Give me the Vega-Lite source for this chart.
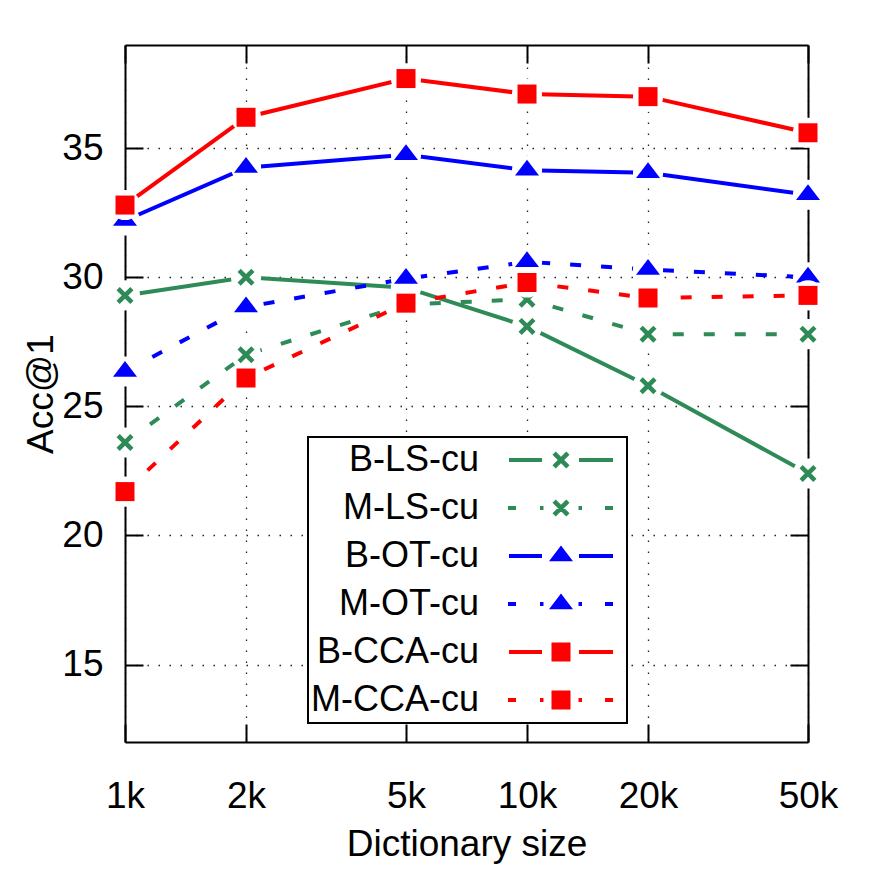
{
 "$schema": "https://vega.github.io/schema/vega-lite/v6.json",
 "width": 683,
 "height": 697,
 "autosize": {"type": "none"},
 "padding": {"left": 125, "top": 45, "right": 64, "bottom": 130},
 "background": "white",
 "config": {
  "view": {"stroke": null},
  "font": "Liberation Sans",
  "axis": {
   "labelFont": "Liberation Sans", "labelFontSize": 37, "labelColor": "black",
   "titleFont": "Liberation Sans", "titleFontSize": 37, "titleFontWeight": "normal", "titleColor": "black",
   "tickColor": "black", "tickWidth": 2, "tickSize": -18,
   "domainColor": "black", "domainWidth": 2,
   "gridColor": "#222", "gridDash": [1.5, 9.5], "gridWidth": 1.3, "gridOpacity": 1,
   "labelFlush": false, "labelOverlap": false, "labelBound": false
  },
  "legend": {
   "labelFont": "Liberation Sans", "labelFontSize": 36, "labelColor": "black", "labelLimit": 400,
   "labelAlign": "right", "labelOffset": -100, "symbolOffset": 230,
   "symbolSize": 400, "symbolStrokeWidth": 0, "symbolOpacity": 1,
   "rowPadding": 12, "padding": 5,
   "strokeColor": "black", "strokeWidth": 2, "fillColor": "white", "cornerRadius": 0
  }
 },
 "data": {"values": [
  {"size": 1000, "s": "B-LS-cu", "acc": 29.3},
  {"size": 2000, "s": "B-LS-cu", "acc": 30.0},
  {"size": 5000, "s": "B-LS-cu", "acc": 29.6},
  {"size": 10000, "s": "B-LS-cu", "acc": 28.1},
  {"size": 20000, "s": "B-LS-cu", "acc": 25.8},
  {"size": 50000, "s": "B-LS-cu", "acc": 22.4},
  {"size": 1000, "s": "M-LS-cu", "acc": 23.6},
  {"size": 2000, "s": "M-LS-cu", "acc": 27.0},
  {"size": 5000, "s": "M-LS-cu", "acc": 28.95},
  {"size": 10000, "s": "M-LS-cu", "acc": 29.15},
  {"size": 20000, "s": "M-LS-cu", "acc": 27.8},
  {"size": 50000, "s": "M-LS-cu", "acc": 27.8},
  {"size": 1000, "s": "B-OT-cu", "acc": 32.2},
  {"size": 2000, "s": "B-OT-cu", "acc": 34.25},
  {"size": 5000, "s": "B-OT-cu", "acc": 34.75},
  {"size": 10000, "s": "B-OT-cu", "acc": 34.15},
  {"size": 20000, "s": "B-OT-cu", "acc": 34.05},
  {"size": 50000, "s": "B-OT-cu", "acc": 33.2},
  {"size": 1000, "s": "M-OT-cu", "acc": 26.35},
  {"size": 2000, "s": "M-OT-cu", "acc": 28.85},
  {"size": 5000, "s": "M-OT-cu", "acc": 29.95},
  {"size": 10000, "s": "M-OT-cu", "acc": 30.6},
  {"size": 20000, "s": "M-OT-cu", "acc": 30.3},
  {"size": 50000, "s": "M-OT-cu", "acc": 30.0},
  {"size": 1000, "s": "B-CCA-cu", "acc": 32.8},
  {"size": 2000, "s": "B-CCA-cu", "acc": 36.2},
  {"size": 5000, "s": "B-CCA-cu", "acc": 37.7},
  {"size": 10000, "s": "B-CCA-cu", "acc": 37.1},
  {"size": 20000, "s": "B-CCA-cu", "acc": 37.0},
  {"size": 50000, "s": "B-CCA-cu", "acc": 35.6},
  {"size": 1000, "s": "M-CCA-cu", "acc": 21.7},
  {"size": 2000, "s": "M-CCA-cu", "acc": 26.1},
  {"size": 5000, "s": "M-CCA-cu", "acc": 29.0},
  {"size": 10000, "s": "M-CCA-cu", "acc": 29.8},
  {"size": 20000, "s": "M-CCA-cu", "acc": 29.2},
  {"size": 50000, "s": "M-CCA-cu", "acc": 29.3}
 ]},
 "encoding": {
  "x": {"field": "size", "type": "quantitative", "scale": {"type": "log", "domain": [1000, 50000], "nice": false}, "axis": null},
  "y": {"field": "acc", "type": "quantitative", "scale": {"domain": [12, 39], "nice": false, "zero": false}, "axis": null}
 },
 "layer": [
  {
   "transform": [{"filter": "datum.acc > 1000"}],
   "mark": {"type": "point", "filled": true, "opacity": 1},
   "encoding": {
    "x": {"field": "size", "type": "quantitative", "scale": {"type": "log", "domain": [1000, 50000], "nice": false},
     "axis": {"orient": "bottom", "values": [1000, 2000, 5000, 10000, 20000, 50000], "labelExpr": "datum.value / 1000 + 'k'",
      "title": "Dictionary size", "grid": true, "labelBaseline": "alphabetic", "labelPadding": 83,
      "titleX": 341.5, "titleY": 113, "titleBaseline": "alphabetic", "titleAnchor": null}},
    "y": {"field": "acc", "type": "quantitative", "scale": {"domain": [12, 39], "nice": false, "zero": false},
     "axis": {"orient": "left", "values": [15, 20, 25, 30, 35], "title": "Acc@1", "grid": true,
      "labelPadding": 40, "labelBaseline": "middle", "titleX": -73, "titleY": 348.5, "titleAngle": 270, "titleBaseline": "alphabetic", "titleAlign": "center", "titleAnchor": null}},
    "color": {"field": "s", "type": "nominal",
     "scale": {"domain": ["B-LS-cu", "M-LS-cu", "B-OT-cu", "M-OT-cu", "B-CCA-cu", "M-CCA-cu"], "range": ["#2e8b57", "#2e8b57", "#0000ff", "#0000ff", "#ff0000", "#ff0000"]},
     "legend": {"orient": "none", "legendX": 183, "legendY": 392, "title": null}},
    "shape": {"field": "s", "type": "nominal",
     "scale": {"domain": ["B-LS-cu", "M-LS-cu", "B-OT-cu", "M-OT-cu", "B-CCA-cu", "M-CCA-cu"],
      "range": [
       "M6.1,0M-5.2,-0.2H-1.9V0.2H-5.2ZM1.8,-0.2H5.2V0.2H1.8ZM-0.527,-0.85L0.85,0.527L0.527,0.85L-0.85,-0.527ZM0.85,-0.527L-0.527,0.85L-0.85,0.527L0.527,-0.85Z",
       "M6.1,0M-5.3,-0.2H-4.5V0.2H-5.3ZM-2.1,-0.2H-1.75V0.2H-2.1ZM1.75,-0.2H2.1V0.2H1.75ZM4.4,-0.2H5.2V0.2H4.4ZM-0.527,-0.85L0.85,0.527L0.527,0.85L-0.85,-0.527ZM0.85,-0.527L-0.527,0.85L-0.85,0.527L0.527,-0.85Z",
       "M6.1,0M-5.2,-0.2H-1.9V0.2H-5.2ZM1.8,-0.2H5.2V0.2H1.8ZM0,-1.05L1.2,0.52L-1.2,0.52Z",
       "M6.1,0M-5.3,-0.2H-4.5V0.2H-5.3ZM-2.1,-0.2H-1.75V0.2H-2.1ZM1.75,-0.2H2.1V0.2H1.75ZM4.4,-0.2H5.2V0.2H4.4ZM0,-1.05L1.2,0.52L-1.2,0.52Z",
       "M6.1,0M-5.2,-0.2H-1.9V0.2H-5.2ZM1.8,-0.2H5.2V0.2H1.8ZM-0.95,-0.95H0.95V0.95H-0.95Z",
       "M6.1,0M-5.3,-0.2H-4.5V0.2H-5.3ZM-2.1,-0.2H-1.75V0.2H-2.1ZM1.75,-0.2H2.1V0.2H1.75ZM4.4,-0.2H5.2V0.2H4.4ZM-0.95,-0.95H0.95V0.95H-0.95Z"
      ]},
     "legend": {"orient": "none", "legendX": 183, "legendY": 392, "title": null}}
   }
  },
  {
   "transform": [{"filter": "datum.acc > 1000"}],
   "mark": {"type": "point", "opacity": 1},
   "encoding": {
    "x": {"field": "size", "type": "quantitative", "scale": {"type": "log", "domain": [1000, 50000], "nice": false},
     "axis": {"orient": "top", "values": [1000, 2000, 5000, 10000, 20000, 50000], "labels": false, "title": null, "grid": false}},
    "y": {"field": "acc", "type": "quantitative", "scale": {"domain": [12, 39], "nice": false, "zero": false},
     "axis": {"orient": "right", "values": [15, 20, 25, 30, 35], "labels": false, "title": null, "grid": false}}
   }
  },
  {
   "transform": [{"filter": "datum.s === 'B-LS-cu'"}],
   "layer": [
    {"mark": {"type": "line", "color": "#2e8b57", "strokeWidth": 4}, "encoding": {}},
    {"mark": {"type": "point", "shape": "circle", "filled": true, "color": "white", "size": 908, "opacity": 1, "strokeWidth": 0}},
    {"mark": {"type": "point", "shape": "M-0.527,-0.85L0.85,0.527L0.527,0.85L-0.85,-0.527ZM0.85,-0.527L-0.527,0.85L-0.85,0.527L0.527,-0.85Z", "filled": true, "color": "#2e8b57", "size": 400, "opacity": 1, "strokeWidth": 0}}
   ]
  },
  {
   "transform": [{"filter": "datum.s === 'M-LS-cu'"}],
   "layer": [
    {"mark": {"type": "line", "color": "#2e8b57", "strokeWidth": 4, "strokeDash": [11, 20]}, "encoding": {}},
    {"mark": {"type": "point", "shape": "circle", "filled": true, "color": "white", "size": 908, "opacity": 1, "strokeWidth": 0}},
    {"mark": {"type": "point", "shape": "M-0.527,-0.85L0.85,0.527L0.527,0.85L-0.85,-0.527ZM0.85,-0.527L-0.527,0.85L-0.85,0.527L0.527,-0.85Z", "filled": true, "color": "#2e8b57", "size": 400, "opacity": 1, "strokeWidth": 0}}
   ]
  },
  {
   "transform": [{"filter": "datum.s === 'B-OT-cu'"}],
   "layer": [
    {"mark": {"type": "line", "color": "#0000ff", "strokeWidth": 4}, "encoding": {}},
    {"mark": {"type": "point", "shape": "circle", "filled": true, "color": "white", "size": 908, "opacity": 1, "strokeWidth": 0}},
    {"mark": {"type": "point", "shape": "M0,-1.05L1.2,0.52L-1.2,0.52Z", "filled": true, "color": "#0000ff", "size": 400, "opacity": 1, "strokeWidth": 0}}
   ]
  },
  {
   "transform": [{"filter": "datum.s === 'M-OT-cu'"}],
   "layer": [
    {"mark": {"type": "line", "color": "#0000ff", "strokeWidth": 4, "strokeDash": [11, 20]}, "encoding": {}},
    {"mark": {"type": "point", "shape": "circle", "filled": true, "color": "white", "size": 908, "opacity": 1, "strokeWidth": 0}},
    {"mark": {"type": "point", "shape": "M0,-1.05L1.2,0.52L-1.2,0.52Z", "filled": true, "color": "#0000ff", "size": 400, "opacity": 1, "strokeWidth": 0}}
   ]
  },
  {
   "transform": [{"filter": "datum.s === 'B-CCA-cu'"}],
   "layer": [
    {"mark": {"type": "line", "color": "#ff0000", "strokeWidth": 4}, "encoding": {}},
    {"mark": {"type": "point", "shape": "circle", "filled": true, "color": "white", "size": 908, "opacity": 1, "strokeWidth": 0}},
    {"mark": {"type": "point", "shape": "M-0.95,-0.95H0.95V0.95H-0.95Z", "filled": true, "color": "#ff0000", "size": 400, "opacity": 1, "strokeWidth": 0}}
   ]
  },
  {
   "transform": [{"filter": "datum.s === 'M-CCA-cu'"}],
   "layer": [
    {"mark": {"type": "line", "color": "#ff0000", "strokeWidth": 4, "strokeDash": [11, 20]}, "encoding": {}},
    {"mark": {"type": "point", "shape": "circle", "filled": true, "color": "white", "size": 908, "opacity": 1, "strokeWidth": 0}},
    {"mark": {"type": "point", "shape": "M-0.95,-0.95H0.95V0.95H-0.95Z", "filled": true, "color": "#ff0000", "size": 400, "opacity": 1, "strokeWidth": 0}}
   ]
  }
 ],
 "resolve": {"axis": {"x": "independent", "y": "independent"}}
}
